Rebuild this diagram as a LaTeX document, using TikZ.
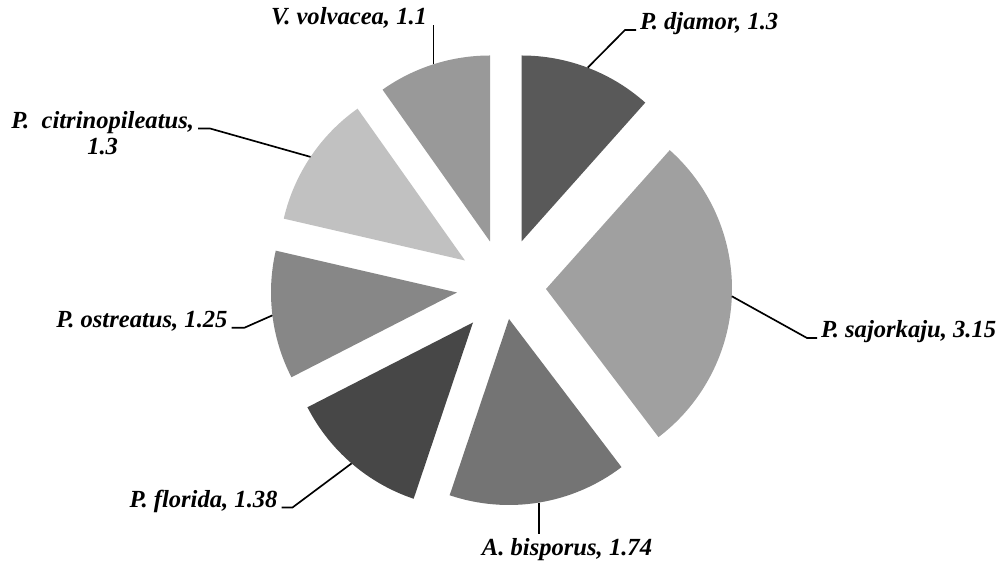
\documentclass[tikz,border=0pt]{standalone}
\usepackage{fontspec}
\setmainfont{Liberation Serif}
\usepackage{tikz}
\usetikzlibrary{positioning, calc}
\definecolor{djamorgray}{HTML}{595959}
\definecolor{sajorgray}{HTML}{A0A0A0}
\definecolor{bisporgray}{HTML}{747474}
\definecolor{floridagray}{HTML}{474747}
\definecolor{ostreagray}{HTML}{878787}
\definecolor{citrinogray}{HTML}{C1C1C1}
\definecolor{volvagray}{HTML}{999999}

\begin{document}
\begin{tikzpicture}[x=0.02cm, y=0.02cm,
        lbl/.style={font=\fontsize{14}{15}\selectfont\bfseries\itshape,
                    inner sep=0pt, outer xsep=0.08cm, outer ysep=0.1cm},
        leader/.style={draw=black, line width=0.95pt}]
        \useasboundingbox (0,0) rectangle (1001,564);

        % Add the slices
        \coordinate (djamor) at (521.5,322.5);
        \coordinate (sajor)  at (546,275);
        \coordinate (bispor) at (509,245);
        \coordinate (florida) at (473,241.5);
        \coordinate (ostrea) at (457,271.5);
        \coordinate (citrino) at (465,303.5);
        \coordinate (volva)  at (490,322.5);

        \fill[djamorgray]  (djamor) -- ++(48.29:186)
            arc[start angle=48.29, end angle=90, radius=186] -- cycle;
        \fill[sajorgray]   (sajor) -- ++(-52.78:186)
            arc[start angle=-52.78, end angle=48.29, radius=186] -- cycle;
        \fill[bisporgray]  (bispor) -- ++(-108.61:186)
            arc[start angle=-108.61, end angle=-52.78, radius=186] -- cycle;
        \fill[floridagray] (florida) -- ++(-152.89:186)
            arc[start angle=-152.89, end angle=-108.61, radius=186] -- cycle;
        \fill[ostreagray]  (ostrea) -- ++(167:186)
            arc[start angle=167, end angle=207.11, radius=186] -- cycle;
        \fill[citrinogray] (citrino) -- ++(125.29:186)
            arc[start angle=125.29, end angle=167, radius=186] -- cycle;
        \fill[volvagray]   (volva) -- ++(90:186)
            arc[start angle=90, end angle=125.29, radius=186] -- cycle;

        % Middle of each arc
        \coordinate (djamor-mid)  at ($(djamor)+(69.15:186)$);
        \coordinate (sajor-mid)   at ($(sajor)+(-2.25:186)$);
        \coordinate (bispor-mid)  at ($(bispor)+(-80.7:186)$);
        \coordinate (florida-mid) at ($(florida)+(-130.75:186)$);
        \coordinate (ostrea-mid)  at ($(ostrea)+(187.06:186)$);
        \coordinate (citrino-mid) at ($(citrino)+(146.15:186)$);
        \coordinate (volva-mid)   at ($(volva)+(107.65:186)$);

        % Add the labels
        \node[lbl, anchor=base west] (djamor-lbl) at (636,534) {P. djamor, 1.3};
        \node[lbl, anchor=base west] (sajor-lbl) at (817,226) {P. sajorkaju, 3.15};
        \node[lbl, anchor=base] (bispor-lbl) at (567,8) {A. bisporus, 1.74};
        \node[lbl, anchor=base east] (florida-lbl) at (281.5,56.5) {P. florida, 1.38};
        \node[lbl, anchor=base east] (ostrea-lbl) at (231.5,236.3) {P. ostreatus, 1.25};
        \node[lbl, anchor=base east] (citrino-lbl) at (198,435.5)
            {\begin{tabular}[t]{@{}c@{}}P.~~citrinopileatus,\\1.3\end{tabular}};
        \node[lbl, anchor=base east] (volva-lbl) at (431,539) {V. volvacea, 1.1};

        % Connect the slices with the labels
        \draw[leader] (djamor-mid) -- ([xshift=-0.22cm]djamor-lbl.base west) -- (djamor-lbl.base west);
        \draw[leader] (sajor-mid) -- ([xshift=-0.2cm]sajor-lbl.base west) -- (sajor-lbl.base west);
        \draw[leader] (bispor-mid) -- (bispor-mid |- bispor-lbl.north);
        \draw[leader] (florida-mid) -- ([xshift=0.22cm]florida-lbl.base east) -- (florida-lbl.base east);
        \draw[leader] (ostrea-mid) -- ([xshift=0.26cm]ostrea-lbl.base east) -- (ostrea-lbl.base east);
        \draw[leader] (citrino-mid) -- ([xshift=0.24cm]citrino-lbl.base east) -- (citrino-lbl.base east);
        \draw[leader] (volva-mid) -- (volva-mid |- volva-lbl.base east);
\end{tikzpicture}
\end{document}
